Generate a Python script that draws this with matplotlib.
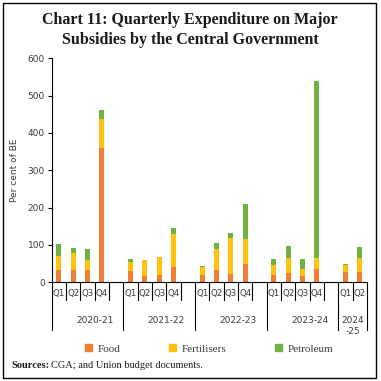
import matplotlib
matplotlib.use("Agg")
import matplotlib.pyplot as plt
from matplotlib.patches import Rectangle, Patch
from matplotlib.transforms import blended_transform_factory
import numpy as np

years = ["2020-21", "2021-22", "2022-23", "2023-24", "2024\n-25"]
quarters = [["Q1", "Q2", "Q3", "Q4"], ["Q1", "Q2", "Q3", "Q4"], ["Q1", "Q2", "Q3", "Q4"],
            ["Q1", "Q2", "Q3", "Q4"], ["Q1", "Q2"]]
food = [33, 33, 34, 360, 31, 17, 20, 41, 19, 33, 23, 50, 20, 26, 17, 36, 28, 28]
fertilisers = [38, 45, 26, 77, 23, 42, 48, 89, 23, 56, 96, 67, 26, 38, 19, 30, 18, 37]
petroleum = [31, 13, 28, 25, 8, 1, 1, 16, 1, 16, 12, 92, 17, 32, 27, 472, 4, 29]
yticks = [0, 100, 200, 300, 400, 500, 600]

C_FOOD = "#F07E33"
C_FERT = "#FFC20E"
C_PET = "#6FB143"
GRAY = "#3a3a3a"

pos = []
group_edges = [-0.5]
start = 0
for q in quarters:
    for i in range(len(q)):
        pos.append(start + i)
    start += len(q) + 1
    group_edges.append(start - 0.5)
group_edges[-1] = pos[-1] + 0.5

fig = plt.figure(figsize=(3.81, 3.81), dpi=100)
W = H = 381
ax = fig.add_axes([51.7 / W, 1 - 282.3 / H, (367 - 51.7) / W, (282.3 - 58.3) / H])

food_a = np.array(food)
fert_a = np.array(fertilisers)
pet_a = np.array(petroleum)
bw = 0.36
ax.bar(pos, food_a, bw, color=C_FOOD, linewidth=0)
ax.bar(pos, fert_a, bw, bottom=food_a, color=C_FERT, linewidth=0)
ax.bar(pos, pet_a, bw, bottom=food_a + fert_a, color=C_PET, linewidth=0)

ax.set_xlim(-0.5, group_edges[-1])
ax.set_ylim(0, 600)
ax.set_yticks(yticks)
ax.tick_params(axis="y", length=3, width=0.8, labelsize=6.5, labelcolor=GRAY, pad=2)
ax.set_xticks([])
for s in ["top", "right"]:
    ax.spines[s].set_visible(False)
for s in ["left", "bottom"]:
    ax.spines[s].set_linewidth(0.8)
ax.set_ylabel("Per cent of BE", fontsize=6.5, color=GRAY, labelpad=6)

trans = blended_transform_factory(ax.transData, ax.transAxes)
short_y = -0.079
long_y = -0.213
for g, q in enumerate(quarters):
    g0 = group_edges[g] + 0.5
    for i, lab in enumerate(q):
        x = g0 + i
        ax.text(x, -0.048, lab, transform=trans, ha="center", va="center",
                fontsize=6.2, color=GRAY)
        if i < len(q) - 1 or len(q) == 4:
            ax.plot([x + 0.5, x + 0.5], [0, short_y], transform=trans, color="black",
                    lw=0.8, clip_on=False)
for e in group_edges:
    ax.plot([e, e], [0, long_y], transform=trans, color="black", lw=0.8, clip_on=False)
for g, y in enumerate(years):
    if g < len(years) - 1:
        xc = group_edges[g] + 3.0
        ax.text(xc, -0.17, y, transform=trans, ha="center", va="center",
                fontsize=6.5, color=GRAY)
    else:
        xc = (group_edges[g] + group_edges[g + 1]) / 2
        ax.text(xc, -0.195, y, transform=trans, ha="center", va="center",
                fontsize=6.5, color=GRAY, linespacing=1.25)

fig.text(190 / W, 1 - 30 / H, "Chart 11: Quarterly Expenditure on Major\nSubsidies by the Central Government",
         ha="center", va="center", fontsize=11.5, fontweight="bold",
         family="Liberation Serif", color="#1a1a1a", linespacing=1.25)

handles = [Patch(color=C_FOOD, label="Food"), Patch(color=C_FERT, label="Fertilisers"),
           Patch(color=C_PET, label="Petroleum")]
leg = fig.legend(handles=handles, loc="center", bbox_to_anchor=(209 / W, 1 - 349 / H),
                 ncol=3, frameon=False, prop={"family": "Liberation Serif", "size": 8},
                 handlelength=0.6, handleheight=0.6, handletextpad=0.5, columnspacing=4.4)
for t in leg.get_texts():
    t.set_color(GRAY)

fig.text(11 / W, 1 - 366 / H, "Sources:", ha="left", va="center", fontsize=7.5,
         fontweight="bold", family="Liberation Serif", color="#1a1a1a")
fig.text(51 / W, 1 - 366 / H, "CGA; and Union budget documents.", ha="left", va="center",
         fontsize=7.5, family="Liberation Serif", color="#1a1a1a")

fig.patches.append(Rectangle((2.5 / W, 1 - 377.5 / H), (376 - 2.5) / W, (377.5 - 3) / H,
                             transform=fig.transFigure, fill=False, edgecolor="black", lw=1.0))

fig.savefig("out.png", dpi=100)
